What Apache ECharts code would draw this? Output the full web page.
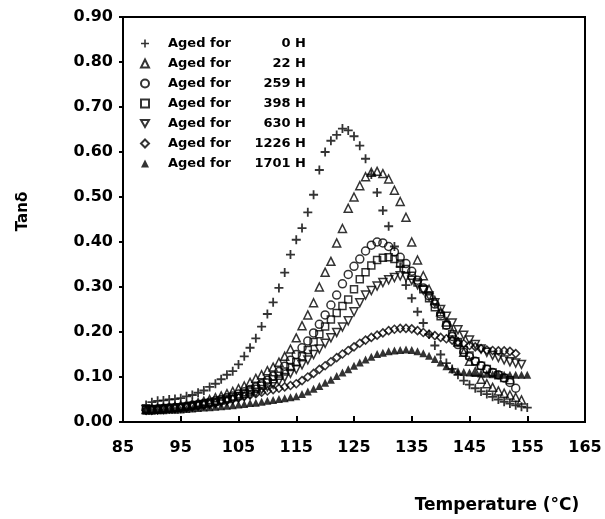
<!DOCTYPE html>
<html>
<head>
<meta charset="utf-8">
<script src="https://cdn.jsdelivr.net/npm/echarts@6/dist/echarts.min.js"></script>
<style>
  html, body { margin: 0; padding: 0; background: #fff; }
  #chart { width: 605px; height: 519px; }
</style>
</head>
<body>
<div id="chart"></div>
<script>
// temperatures (°C) at which each sample was read
const temps = [
  89, 90, 91, 92, 93, 94, 95, 96, 97, 98,
  99, 100, 101, 102, 103, 104, 105, 106, 107, 108,
  109, 110, 111, 112, 113, 114, 115, 116, 117, 118,
  119, 120, 121, 122, 123, 124, 125, 126, 127, 128,
  129, 130, 131, 132, 133, 134, 135, 136, 137, 138,
  139, 140, 141, 142, 143, 144, 145, 146, 147, 148,
  149, 150, 151, 152, 153, 154, 155
];

// tan delta, one array per ageing time
const aged0 = [
  0.038, 0.044, 0.047, 0.048, 0.050, 0.051, 0.053, 0.057, 0.060, 0.065,
  0.070, 0.078, 0.085, 0.095, 0.105, 0.113, 0.128, 0.146, 0.165, 0.186,
  0.212, 0.240, 0.266, 0.298, 0.332, 0.372, 0.405, 0.431, 0.466, 0.505,
  0.560, 0.600, 0.625, 0.638, 0.652, 0.648, 0.635, 0.614, 0.585, 0.550,
  0.510, 0.470, 0.435, 0.390, 0.345, 0.304, 0.275, 0.245, 0.220, 0.195,
  0.170, 0.150, 0.131, 0.118, 0.105, 0.092, 0.083, 0.075, 0.068, 0.062,
  0.056, 0.050, 0.045, 0.041, 0.037, 0.034, 0.032
];
const aged22 = [
  0.028, 0.029, 0.030, 0.031, 0.032, 0.034, 0.036, 0.038, 0.040, 0.043,
  0.046, 0.050, 0.054, 0.058, 0.063, 0.068, 0.074, 0.080, 0.088, 0.097,
  0.105, 0.114, 0.122, 0.133, 0.146, 0.162, 0.187, 0.214, 0.238, 0.265,
  0.300, 0.333, 0.357, 0.398, 0.430, 0.475, 0.500, 0.525, 0.545, 0.555,
  0.557, 0.552, 0.540, 0.515, 0.490, 0.455, 0.400, 0.360, 0.325, 0.295,
  0.270, 0.245, 0.222, 0.200, 0.178, 0.155, 0.135, 0.112, 0.095, 0.085,
  0.077, 0.069, 0.064, 0.060, 0.055, 0.049, null
];
const aged259 = [
  0.028, 0.028, 0.029, 0.030, 0.031, 0.032, 0.033, 0.035, 0.037, 0.039,
  0.041, 0.044, 0.047, 0.050, 0.054, 0.058, 0.062, 0.067, 0.072, 0.078,
  0.085, 0.093, 0.102, 0.112, 0.124, 0.137, 0.150, 0.165, 0.180, 0.198,
  0.217, 0.238, 0.260, 0.282, 0.307, 0.328, 0.346, 0.362, 0.380, 0.393,
  0.400, 0.398, 0.390, 0.378, 0.366, 0.352, 0.335, 0.315, 0.298, 0.280,
  0.262, 0.240, 0.215, 0.190, 0.172, 0.155, 0.145, 0.135, 0.125, 0.117,
  0.110, 0.105, 0.098, 0.088, 0.075, null, null
];
const aged398 = [
  0.027, 0.028, 0.028, 0.029, 0.030, 0.031, 0.032, 0.034, 0.036, 0.038,
  0.040, 0.042, 0.045, 0.048, 0.051, 0.055, 0.058, 0.063, 0.068, 0.074,
  0.081, 0.088, 0.095, 0.103, 0.112, 0.122, 0.133, 0.146, 0.160, 0.178,
  0.195, 0.212, 0.228, 0.242, 0.258, 0.272, 0.295, 0.317, 0.333, 0.348,
  0.360, 0.365, 0.366, 0.362, 0.352, 0.340, 0.325, 0.310, 0.295, 0.275,
  0.255, 0.235, 0.215, 0.195, 0.178, 0.160, 0.148, 0.135, 0.125, 0.118,
  0.110, 0.104, 0.098, 0.093, null, null, null
];
const aged630 = [
  0.027, 0.027, 0.028, 0.029, 0.030, 0.030, 0.031, 0.033, 0.034, 0.036,
  0.038, 0.040, 0.042, 0.045, 0.047, 0.050, 0.053, 0.057, 0.061, 0.066,
  0.072, 0.078, 0.084, 0.091, 0.099, 0.108, 0.117, 0.127, 0.138, 0.150,
  0.162, 0.175, 0.187, 0.199, 0.211, 0.225, 0.245, 0.265, 0.282, 0.292,
  0.302, 0.310, 0.316, 0.321, 0.325, 0.322, 0.315, 0.305, 0.293, 0.280,
  0.265, 0.250, 0.235, 0.220, 0.205, 0.193, 0.182, 0.172, 0.162, 0.155,
  0.148, 0.143, 0.138, 0.134, 0.131, 0.128, null
];
const aged1226 = [
  0.026, 0.026, 0.027, 0.028, 0.029, 0.030, 0.031, 0.032, 0.034, 0.036,
  0.038, 0.040, 0.042, 0.045, 0.048, 0.051, 0.054, 0.057, 0.060, 0.063,
  0.066, 0.069, 0.072, 0.075, 0.078, 0.081, 0.085, 0.092, 0.100, 0.108,
  0.117, 0.125, 0.134, 0.143, 0.151, 0.159, 0.167, 0.175, 0.182, 0.188,
  0.193, 0.198, 0.203, 0.206, 0.208, 0.208, 0.207, 0.203, 0.199, 0.195,
  0.192, 0.188, 0.185, 0.182, 0.178, 0.174, 0.170, 0.167, 0.163, 0.160,
  0.159, 0.158, 0.158, 0.157, 0.152, null, null
];
const aged1701 = [
  0.025, 0.025, 0.026, 0.026, 0.027, 0.027, 0.028, 0.029, 0.030, 0.031,
  0.032, 0.033, 0.034, 0.035, 0.036, 0.037, 0.039, 0.040, 0.042, 0.043,
  0.045, 0.047, 0.049, 0.051, 0.053, 0.055, 0.057, 0.062, 0.068, 0.074,
  0.080, 0.087, 0.094, 0.102, 0.110, 0.117, 0.125, 0.132, 0.139, 0.145,
  0.151, 0.154, 0.157, 0.159, 0.160, 0.161, 0.160, 0.157, 0.153, 0.147,
  0.140, 0.132, 0.124, 0.117, 0.113, 0.111, 0.110, 0.109, 0.108, 0.107,
  0.106, 0.105, 0.105, 0.105, 0.105, 0.105, 0.105
];

const seriesNames = [
  'Aged for 0 H', 'Aged for 22 H', 'Aged for 259 H', 'Aged for 398 H',
  'Aged for 630 H', 'Aged for 1226 H', 'Aged for 1701 H'
];
const xTicks = [85, 95, 105, 115, 125, 135, 145, 155, 165];
const yTicks = [0, 0.1, 0.2, 0.3, 0.4, 0.5, 0.6, 0.7, 0.8, 0.9];

const FONT = 'DejaVu Sans';
const PLUS = 'path://M4,0H6V4H10V6H6V10H4V6H0V4H4Z';
const TRI_DOWN = 'path://M0,0L10,0L5,8.66Z';

const hollow = { color: 'rgba(0,0,0,0)', borderColor: '#000', borderWidth: 1.5 };
const solid = { color: '#000', borderWidth: 0 };

const markers = [
  { symbol: PLUS, size: 9, style: solid },
  { symbol: 'triangle', size: 8, style: hollow },
  { symbol: 'circle', size: 8, style: hollow },
  { symbol: 'rect', size: 7, style: hollow },
  { symbol: TRI_DOWN, size: 8, style: hollow },
  { symbol: 'diamond', size: 8, style: hollow },
  { symbol: 'triangle', size: 8, style: solid }
];
const valueSets = [aged0, aged22, aged259, aged398, aged630, aged1226, aged1701];

const toPairs = vals => temps.map((t, i) => [t, vals[i]]).filter(p => p[1] != null);

const chart = echarts.init(document.getElementById('chart'));
chart.setOption({
  animation: false,
  backgroundColor: '#fff',
  grid: {
    left: 123, right: 20, top: 17, bottom: 88,
    show: true, borderColor: '#000', borderWidth: 2
  },
  legend: {
    orient: 'vertical', left: 135, top: 32,
    itemWidth: 8, itemHeight: 8, itemGap: 7,
    data: seriesNames,
    formatter: name => '{a|Aged for}{b|' + name.replace('Aged for ', '') + '}',
    textStyle: {
      color: '#000',
      rich: {
        a: { fontFamily: FONT, fontSize: 13, fontWeight: 'bold', color: '#000', width: 70, padding: [0, 0, 0, 14] },
        b: { fontFamily: FONT, fontSize: 13, fontWeight: 'bold', color: '#000', width: 68, align: 'right' }
      }
    }
  },
  xAxis: {
    type: 'value', min: 85, max: 165,
    name: 'Temperature (°C)', nameLocation: 'middle', nameGap: 75,
    nameTextStyle: { fontFamily: FONT, fontSize: 17, fontWeight: 'bold', color: '#000', padding: [0, 0, 0, 286] },
    axisLine: { lineStyle: { color: '#000', width: 2 } },
    axisTick: { inside: true, length: 6, lineStyle: { color: '#000', width: 2 }, customValues: xTicks },
    axisLabel: { customValues: xTicks, margin: 18, fontFamily: FONT, fontSize: 16, fontWeight: 'bold', color: '#000' },
    splitLine: { show: false }
  },
  yAxis: {
    type: 'value', min: 0, max: 0.9, interval: 0.1,
    name: 'Tanδ', nameLocation: 'middle', nameGap: 92, nameRotate: 90,
    nameTextStyle: { fontFamily: FONT, fontSize: 15, fontWeight: 'bold', color: '#000', padding: [0, 0, 0, 16] },
    axisLine: { lineStyle: { color: '#000', width: 2 } },
    axisTick: { length: 4, lineStyle: { color: '#000', width: 2 }, customValues: yTicks },
    axisLabel: {
      customValues: yTicks, margin: 10,
      fontFamily: FONT, fontSize: 16, fontWeight: 'bold', color: '#000',
      formatter: v => v.toFixed(2)
    },
    splitLine: { show: false }
  },
  series: seriesNames.map((name, k) => ({
    name,
    type: 'scatter',
    symbol: markers[k].symbol,
    symbolSize: markers[k].size,
    itemStyle: markers[k].style,
    data: toPairs(valueSets[k])
  }))
});
</script>
</body>
</html>
